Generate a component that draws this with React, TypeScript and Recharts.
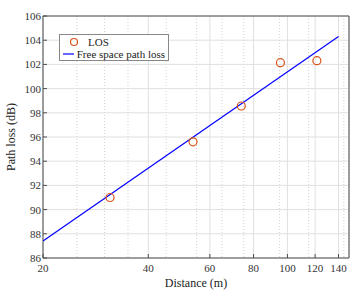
import React from 'react';
import { ScatterChart, Scatter, XAxis, YAxis, CartesianGrid, ReferenceLine } from 'recharts';

const losDistance = [31.1, 53.7, 73.8, 95.5, 121.4];
const losLoss = [91.0, 95.6, 98.56, 102.14, 102.31];
const fsplDistance = [20, 140];
const fsplLoss = [87.4, 104.3];
const xTicks = [20, 40, 60, 80, 100, 120, 140];
const xMinor = [25, 30, 35, 45, 50, 55, 65, 70, 75, 85, 90, 95, 105, 110, 115, 125, 130, 135, 145];
const yTicks = [86, 88, 90, 92, 94, 96, 98, 100, 102, 104, 106];

const losData = losDistance.map((d, i) => ({ x: d, y: losLoss[i] }));
const fsplData = fsplDistance.map((d, i) => ({ x: d, y: fsplLoss[i] }));

const font = '"Liberation Serif", "DejaVu Serif", serif';
const axisColor = '#4d4d4d';

const YLabel = ({ viewBox }: any) => {
    const cx = 11;
    const cy = viewBox.y + viewBox.height / 2;
    return (
        <text x={cx} y={cy} transform={`rotate(-90 ${cx} ${cy})`} textAnchor="middle" dominantBaseline="central" fill="#222" fontSize={12} fontFamily={font}>
            Path loss (dB)
        </text>
    );
};

const LegendBox = () => (
    <div style={{ position: 'absolute', left: 59, top: 34, boxSizing: 'border-box', width: 110, height: 27, border: '1px solid #888', background: '#fff', padding: '1px 3px', fontFamily: font, fontSize: 11, lineHeight: '12px', color: '#222', whiteSpace: 'nowrap' }}>
        <div style={{ display: 'flex', alignItems: 'center', height: 12 }}>
            <svg width={22} height={10}><circle cx={11} cy={5} r={3.5} fill="none" stroke="#D95319" strokeWidth={1.2} /></svg>
            <span style={{ marginLeft: 3 }}>LOS</span>
        </div>
        <div style={{ display: 'flex', alignItems: 'center', height: 12 }}>
            <svg width={22} height={10}><line x1={0} y1={5} x2={22} y2={5} stroke="#0000FF" strokeWidth={1.2} /></svg>
            <span style={{ marginLeft: 3 }}>Free space path loss</span>
        </div>
    </div>
);

export default function App() {
    return (
        <div style={{ position: 'absolute', left: 0, top: 0, width: 359, height: 295, background: '#fff' }}>
            <ScatterChart width={359} height={295} margin={{ top: 16, right: 10, bottom: 0, left: 0 }}>
                <CartesianGrid xAxisId="minor" horizontal={false} stroke="#d0d0d0" strokeDasharray="1 2" />
                <CartesianGrid stroke="#e0e0e0" />
                <XAxis xAxisId="minor" type="number" dataKey="x" scale="log" domain={[20, 150]} ticks={xMinor} hide allowDataOverflow />
                <XAxis
                    type="number"
                    dataKey="x"
                    scale="log"
                    domain={[20, 150]}
                    ticks={xTicks}
                    allowDataOverflow
                    interval={0}
                    height={37}
                    tick={{ fill: '#333', fontSize: 11, fontFamily: font }}
                    tickSize={-4}
                    tickMargin={10}
                    stroke={axisColor}
                    label={{ value: 'Distance (m)', position: 'insideBottom', offset: 8, fill: '#222', fontSize: 12, fontFamily: font }}
                />
                <YAxis
                    type="number"
                    dataKey="y"
                    domain={[86, 106]}
                    ticks={yTicks}
                    interval={0}
                    width={43}
                    tick={{ fill: '#333', fontSize: 11, fontFamily: font }}
                    tickSize={-4}
                    tickMargin={6}
                    stroke={axisColor}
                    label={<YLabel />}
                />
                <ReferenceLine y={106} stroke={axisColor} />
                <ReferenceLine x={150} stroke={axisColor} />
                <Scatter name="Free space path loss" data={fsplData} line={{ stroke: '#0000FF', strokeWidth: 1.2 }} shape={() => <g />} isAnimationActive={false} />
                <Scatter name="LOS" data={losData} fill="none" shape={(p: any) => <circle cx={p.cx} cy={p.cy} r={4} fill="none" stroke="#D95319" strokeWidth={1.2} />} isAnimationActive={false} />
            </ScatterChart>
            <LegendBox />
        </div>
    );
}
